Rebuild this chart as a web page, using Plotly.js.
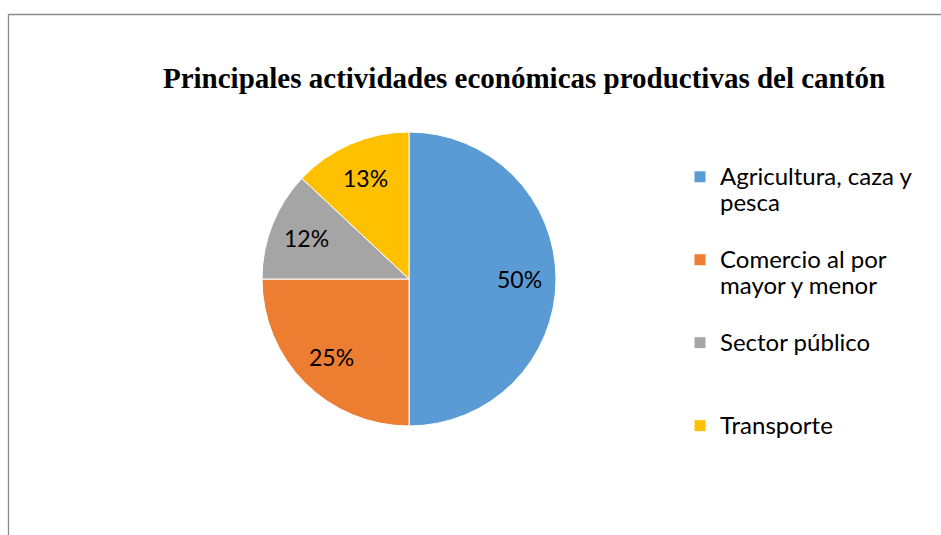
<!DOCTYPE html>
<html>
<head>
<meta charset="utf-8">
<script src="https://cdn.plot.ly/plotly-3.0.1.min.js"></script>
<style>html,body{margin:0;padding:0;background:#fff;}#chart{width:941px;height:535px;}</style>
</head>
<body>
<div id="chart"></div>
<script>
var categories = ["Agricultura, caza y<br>pesca", "Comercio al por<br>mayor y menor", "Sector público", "Transporte"];
var values = [50, 25, 12, 13];
var colors = ["#5B9BD5", "#ED7D31", "#A5A5A5", "#FFC000"];
var titleText = "Principales actividades económicas productivas del cantón";

var W = 941, H = 535;
var pieLeft = 262, pieRight = 556, pieTop = 132, pieBottom = 426;

// legend labels: larger glyphs, padded to three lines so all entries have equal height
var legendLabels = categories.map(function (c) {
  var parts = c.split("<br>");
  while (parts.length < 3) parts.push(" ");
  return parts.map(function (p) { return '<span style="font-size:24px">' + p + '</span>'; }).join("<br>");
});

var trace = {
  type: "pie",
  labels: legendLabels,
  values: values,
  sort: false,
  direction: "clockwise",
  rotation: 0,
  marker: { colors: colors, line: { color: "#ffffff", width: 1 } },
  textinfo: "none",
  textposition: "none",
  hoverinfo: "label+percent",
  domain: { x: [pieLeft / W, pieRight / W], y: [1 - pieBottom / H, 1 - pieTop / H] }
};

// percentage labels placed at 75% of the radius, on each slice's mid angle
var cx = (pieLeft + pieRight) / 2, cy = (pieTop + pieBottom) / 2, r = (pieRight - pieLeft) / 2;
var total = values.reduce(function (a, b) { return a + b; }, 0);
var cum = 0;
var annotations = values.map(function (v) {
  var mid = (cum + v / 2) / total;
  cum += v;
  var ang = (90 - 360 * mid) * Math.PI / 180;
  var px = cx + 0.75 * r * Math.cos(ang);
  var py = cy - 0.75 * r * Math.sin(ang);
  return {
    xref: "paper", yref: "paper", x: px / W, y: 1 - py / H,
    xanchor: "center", yanchor: "middle", showarrow: false,
    text: Math.round(100 * v / total) + "%",
    font: { family: "Lato, 'Open Sans', sans-serif", size: 23, color: "#000000" }
  };
});

var layout = {
  width: W, height: H,
  margin: { l: 0, r: 0, t: 0, b: 0 },
  paper_bgcolor: "#ffffff",
  showlegend: true,
  title: {
    text: "<b>" + titleText + "</b>",
    font: { family: "'Liberation Serif', 'Times New Roman', serif", size: 29, color: "#000000" },
    x: 524 / W, xanchor: "center",
    y: 1 - 78 / H, yanchor: "middle"
  },
  legend: {
    x: 680 / W, xanchor: "left",
    y: 1 - 157 / H, yanchor: "top",
    valign: "top",
    font: { family: "Lato, 'Open Sans', sans-serif", size: 20.5, color: "#000000" },
    bgcolor: "rgba(0,0,0,0)",
    borderwidth: 0
  },
  annotations: annotations,
  shapes: [
    { type: "line", xref: "paper", yref: "paper", x0: 8.5 / W, x1: 8.5 / W, y0: 0, y1: 1 - 14 / H, line: { color: "#8c8c8c", width: 1.3 } },
    { type: "line", xref: "paper", yref: "paper", x0: 8.5 / W, x1: 1, y0: 1 - 14.5 / H, y1: 1 - 14.5 / H, line: { color: "#8c8c8c", width: 1.3 } }
  ]
};

Plotly.newPlot("chart", [trace], layout, { displayModeBar: false, staticPlot: true });
</script>
</body>
</html>
